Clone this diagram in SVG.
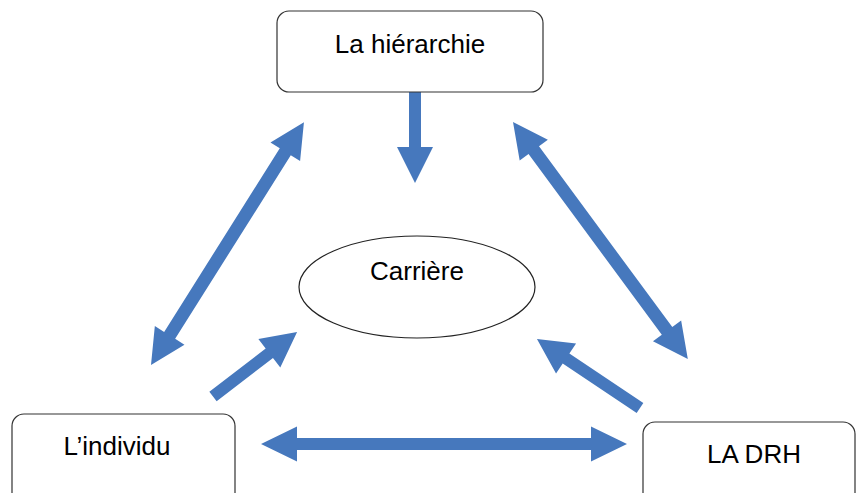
<svg xmlns="http://www.w3.org/2000/svg" width="858" height="493" viewBox="0 0 858 493">
<style>
.box{fill:#fff;stroke:#333;stroke-width:1.2}
.lbl{font-family:"Liberation Sans",Arial,sans-serif;font-size:26px;fill:#000;text-anchor:middle}
.arr{fill:#4678bd;stroke:none}
</style>
<rect width="858" height="493" fill="#fff"/>
<g id="connectors">
<path class="arr" transform="translate(415,91) rotate(90)" d="M0,-6 L56,-6 L56,-18 L92,0 L56,18 L56,6 L0,6 Z"/>
<path class="arr" transform="translate(151,365) rotate(-57.8)" d="M0,0 L35,-17.5 L35,-6.5 L252,-6.5 L252,-17.5 L287,0 L252,17.5 L252,6.5 L35,6.5 L35,17.5 Z"/>
<path class="arr" transform="translate(513,122) rotate(53.6)" d="M0,0 L35,-17.5 L35,-6.5 L259.6,-6.5 L259.6,-17.5 L294.6,0 L259.6,17.5 L259.6,6.5 L35,6.5 L35,17.5 Z"/>
<path class="arr" transform="translate(261,444)" d="M0,0 L36,-17.5 L36,-6 L330,-6 L330,-17.5 L366,0 L330,17.5 L330,6 L36,6 L36,17.5 Z"/>
<path class="arr" transform="translate(213,396.5) rotate(-37.5)" d="M0,-6 L71,-6 L71,-18 L106,0 L71,18 L71,6 L0,6 Z"/>
<path class="arr" transform="translate(640,408) rotate(-146.2)" d="M0,-6 L89,-6 L89,-18 L124,0 L89,18 L89,6 L0,6 Z"/>
</g>
<g id="node-hierarchie">
<rect class="box" x="277" y="11" width="266" height="81" rx="12"/>
<text class="lbl" x="410" y="53">La hiérarchie</text>
</g>
<g id="node-carriere">
<ellipse cx="417" cy="287" rx="118" ry="51" fill="#fff" stroke="#222" stroke-width="1.2"/>
<text class="lbl" x="417" y="280">Carrière</text>
</g>
<g id="node-individu">
<rect class="box" x="12" y="414" width="223" height="95" rx="12"/>
<text class="lbl" x="117" y="455">L’individu</text>
</g>
<g id="node-drh">
<rect class="box" x="643" y="422" width="212" height="95" rx="12"/>
<text class="lbl" x="754" y="463">LA DRH</text>
</g>
</svg>
